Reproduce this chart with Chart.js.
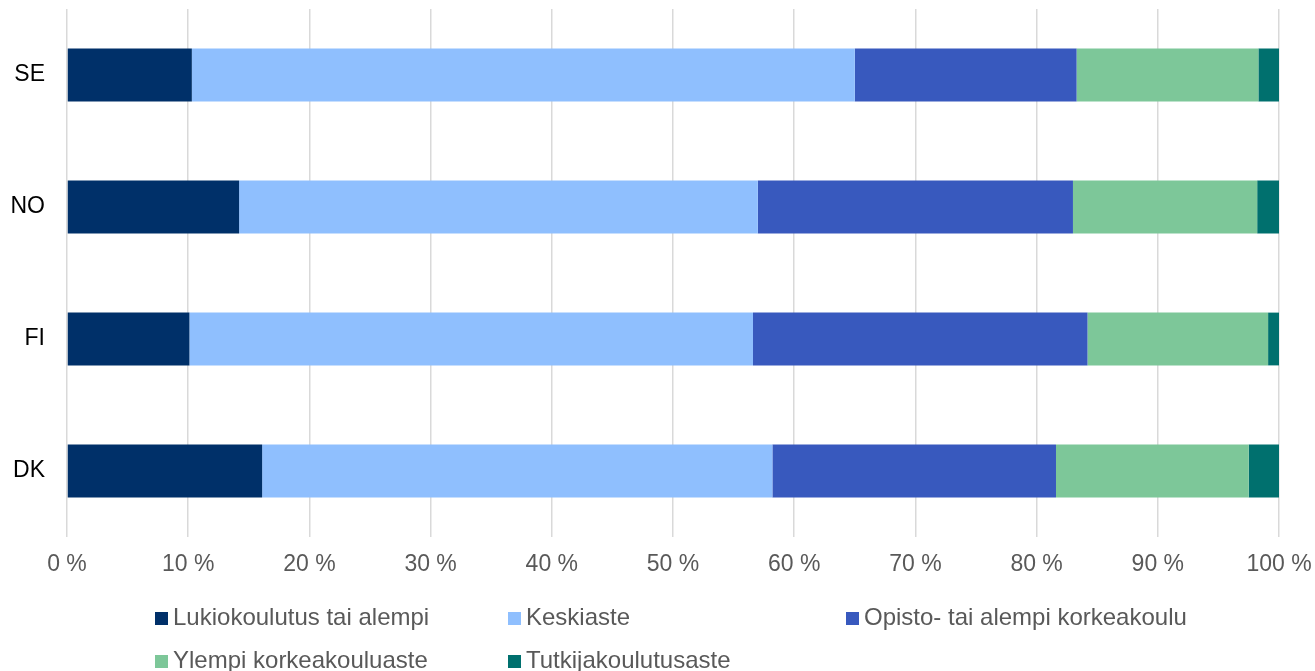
<!DOCTYPE html>
<html>
<head>
<meta charset="utf-8">
<script src="https://cdn.jsdelivr.net/npm/chart.js@4"></script>
<style>
  html,body{margin:0;padding:0;background:#fff;}
  #wrap{position:relative;width:1315px;height:671px;}
  #legend{position:absolute;left:0;top:0;width:1315px;height:671px;pointer-events:none;font-family:"Liberation Sans",Arial,sans-serif;font-size:24px;color:#595959;}
  .item{position:absolute;white-space:nowrap;line-height:26px;}
  .box{display:inline-block;width:13px;height:13px;margin-right:5px;vertical-align:0px;}
</style>
</head>
<body>
<div id="wrap">
  <canvas id="c" width="1315" height="671"></canvas>
  <div id="legend"></div>
</div>
<script>
const categories = ["SE", "NO", "FI", "DK"];
const seriesNames = ["Lukiokoulutus tai alempi", "Keskiaste", "Opisto- tai alempi korkeakoulu", "Ylempi korkeakouluaste", "Tutkijakoulutusaste"];
const lukio = [10.3, 14.2, 10.1, 16.1];
const keski = [54.7, 42.8, 46.5, 42.1];
const opisto = [18.3, 26.0, 27.6, 23.4];
const ylempi = [15.0, 15.2, 14.9, 15.9];
const tutkija = [1.7, 1.8, 0.9, 2.5];
const xTicks = [0, 10, 20, 30, 40, 50, 60, 70, 80, 90, 100];
const colors = ["#003069", "#8fbffe", "#3859be", "#7dc799", "#00706e"];

const seriesValues = [lukio, keski, opisto, ylempi, tutkija];
const datasets = seriesNames.map((n, i) => ({
  label: n,
  data: seriesValues[i],
  backgroundColor: colors[i],
  borderWidth: 0,
  barPercentage: 0.4,
  categoryPercentage: 1.0
}));

new Chart(document.getElementById('c'), {
  type: 'bar',
  data: { labels: categories, datasets },
  options: {
    indexAxis: 'y',
    responsive: false,
    animation: false,
    layout: { padding: { top: 9, right: 36, bottom: 84, left: 0 } },
    plugins: { legend: { display: false }, tooltip: { enabled: false } },
    scales: {
      x: {
        stacked: true,
        min: 0, max: 100,
        afterBuildTicks: (ax) => { ax.ticks = xTicks.map(v => ({ value: v })); },
        afterFit: (ax) => { ax.height = 50; ax.paddingLeft = 0; ax.paddingRight = 0; },
        grid: { color: '#d9d9d9', lineWidth: 1.5, drawTicks: false },
        border: { display: false },
        ticks: {
          padding: 14,
          maxRotation: 0,
          autoSkip: false,
          color: '#595959',
          font: { family: '"Liberation Sans", Arial, sans-serif', size: 23 },
          callback: (v) => v + ' %'
        }
      },
      y: {
        stacked: true,
        afterFit: (ax) => { ax.width = 67; ax.paddingTop = 0; ax.paddingBottom = 0; },
        grid: { display: false, drawTicks: false },
        border: { display: false },
        ticks: {
          padding: 22,
          color: '#000000',
          font: { family: '"Liberation Sans", Arial, sans-serif', size: 23 }
        }
      }
    }
  }
});

const legendPos = [[155, 617], [508, 617], [846, 617], [155, 660], [508, 660]];
const lg = document.getElementById('legend');
seriesNames.forEach((n, i) => {
  const d = document.createElement('div');
  d.className = 'item';
  d.style.left = legendPos[i][0] + 'px';
  d.style.top = (legendPos[i][1] - 13) + 'px';
  d.innerHTML = '<span class="box" style="background:' + colors[i] + '"></span>' + n;
  lg.appendChild(d);
});
</script>
</body>
</html>
